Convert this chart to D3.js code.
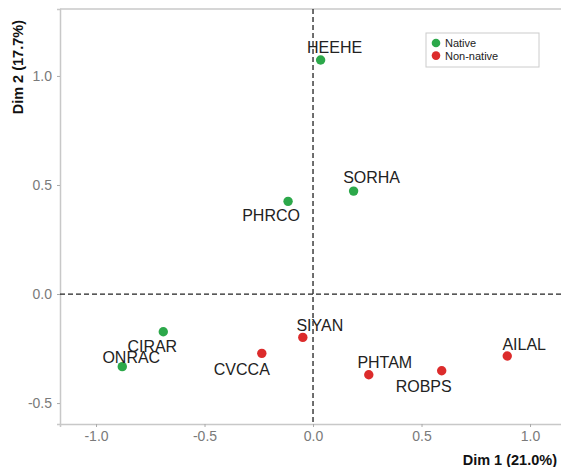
<!DOCTYPE html>
<html lang="en">
<head>
    <meta charset="UTF-8">
    <title>PCA species biplot</title>
    <style>
        body { margin: 0; background: #fff; }
        .tick text { font-family: "Liberation Sans", Arial, sans-serif; }
    </style>
    <script src="https://d3js.org/d3.v7.min.js"></script>
</head>
<body>
    <div id="chart"></div>
    <script>
        // Species codes and their coordinates on the first two dimensions
        const species = ["HEEHE", "SORHA", "PHRCO", "CIRAR", "ONRAC", "CVCCA", "SIYAN", "PHTAM", "ROBPS", "AILAL"];
        const dim1 = [0.035, 0.187, -0.115, -0.69, -0.879, -0.236, -0.047, 0.257, 0.593, 0.895];
        const dim2 = [1.073, 0.472, 0.425, -0.173, -0.333, -0.272, -0.199, -0.370, -0.352, -0.284];
        const status = ["Native", "Native", "Native", "Native", "Native", "Non-native", "Non-native", "Non-native", "Non-native", "Non-native"];
        // label nudges (px) as placed by the repel layout
        const nudgeX = [14, 18, -17, -11, 9, -20, 17, 16, -18, 17];
        const nudgeY = [-13, -14, 14, 15, -9, 16, -12, -12, 16, -11];

        const groups = ["Native", "Non-native"];
        const xTicks = [-1.0, -0.5, 0.0, 0.5, 1.0];
        const yTicks = [-0.5, 0.0, 0.5, 1.0];

        const width = 561, height = 467;
        const panel = { left: 60, top: 9, bottom: 424, right: 563 };

        const svg = d3.select("#chart").append("svg")
            .attr("width", width)
            .attr("height", height);

        const x = d3.scaleLinear().domain([-1.166, 1.152]).range([panel.left, panel.right]);
        const y = d3.scaleLinear().domain([-0.596, 1.307]).range([panel.bottom, panel.top]);
        const color = d3.scaleOrdinal().domain(groups).range(["#2ca84a", "#dc2b2b"]);

        const font = '"Liberation Sans", Arial, sans-serif';
        // plain hyphen for negatives, like the original
        const fmt = d => d.toFixed(1);

        // axes
        const xAxis = svg.append("g")
            .attr("transform", `translate(0,${panel.bottom})`)
            .call(d3.axisBottom(x).tickValues(xTicks).tickFormat(fmt).tickSizeOuter(0).tickSize(3).tickPadding(4));
        const yAxis = svg.append("g")
            .attr("transform", `translate(${panel.left},0)`)
            .call(d3.axisLeft(y).tickValues(yTicks).tickFormat(fmt).tickSizeOuter(0).tickSize(3).tickPadding(5));

        [xAxis, yAxis].forEach(g => {
            g.select(".domain").attr("stroke", "#c8c8c8").attr("stroke-width", 1.5);
            g.selectAll(".tick line").attr("stroke", "#aaa");
            g.selectAll(".tick text").attr("fill", "#7a7a7a").attr("font-size", 14);
        });

        // top border
        svg.append("line")
            .attr("x1", panel.left).attr("x2", panel.right)
            .attr("y1", panel.top).attr("y2", panel.top)
            .attr("stroke", "#c8c8c8").attr("stroke-width", 1.5);

        // reference lines at zero
        svg.append("line")
            .attr("x1", panel.left).attr("x2", panel.right)
            .attr("y1", y(0)).attr("y2", y(0))
            .attr("stroke", "#222").attr("stroke-width", 1.3).attr("stroke-dasharray", "5,3");
        svg.append("line")
            .attr("x1", x(0)).attr("x2", x(0))
            .attr("y1", panel.top).attr("y2", panel.bottom)
            .attr("stroke", "#222").attr("stroke-width", 1.3).attr("stroke-dasharray", "5,3");

        // points
        svg.append("g").selectAll("circle")
            .data(species)
            .join("circle")
            .attr("cx", (d, i) => x(dim1[i]))
            .attr("cy", (d, i) => y(dim2[i]))
            .attr("r", 4.7)
            .attr("fill", (d, i) => color(status[i]));

        // labels
        svg.append("g").selectAll("text")
            .data(species)
            .join("text")
            .attr("x", (d, i) => x(dim1[i]) + nudgeX[i])
            .attr("y", (d, i) => y(dim2[i]) + nudgeY[i])
            .attr("text-anchor", "middle")
            .attr("dominant-baseline", "central")
            .attr("font-family", font)
            .attr("font-size", 16)
            .attr("fill", "#222")
            .text(d => d);

        // axis titles
        svg.append("text")
            .attr("x", 557).attr("y", 465)
            .attr("text-anchor", "end")
            .attr("font-family", font)
            .attr("font-weight", "bold")
            .attr("font-size", 14.5)
            .attr("fill", "#111")
            .text("Dim 1 (21.0%)");
        svg.append("text")
            .attr("transform", "translate(23,20) rotate(-90)")
            .attr("text-anchor", "end")
            .attr("font-family", font)
            .attr("font-weight", "bold")
            .attr("font-size", 14.5)
            .attr("fill", "#111")
            .text("Dim 2 (17.7%)");

        // legend
        const legend = svg.append("g").attr("transform", "translate(426,33)");
        legend.append("rect")
            .attr("width", 113).attr("height", 34)
            .attr("fill", "#fff").attr("stroke", "#ccc").attr("stroke-width", 1);
        groups.forEach((g, i) => {
            legend.append("circle")
                .attr("cx", 10).attr("cy", 10 + i * 12.6)
                .attr("r", 4.3)
                .attr("fill", color(g));
            legend.append("text")
                .attr("x", 19).attr("y", 10 + i * 12.6)
                .attr("dominant-baseline", "central")
                .attr("font-family", font)
                .attr("font-size", 11)
                .attr("fill", "#222")
                .text(g);
        });
    </script>
</body>
</html>
